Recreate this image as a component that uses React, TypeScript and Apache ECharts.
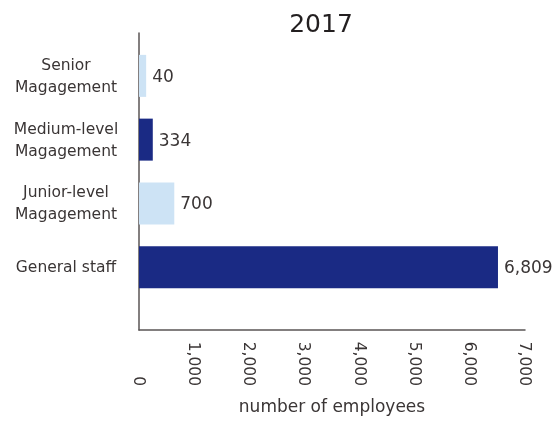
import React, { useEffect, useRef } from "react";
import * as echarts from "echarts";

const categories = ["Senior\nMagagement", "Medium-level\nMagagement", "Junior-level\nMagagement", "General staff"];
// bar lengths as drawn in the picture
const barValues = [130, 250, 640, 6510];
// numbers printed next to the bars
const labelValues = [40, 334, 700, 6809];
const barColors = ["#cde3f5", "#1a2a84", "#cde3f5", "#1a2a84"];
const xTicks = [0, 1000, 2000, 3000, 4000, 5000, 6000, 7000];
const title = "2017";
const xName = "number of employees";

const FONT = "DejaVu Sans";
const TXT = "#3a3535";

const fmt = (v: number) => v.toLocaleString("en-US");

export default function App() {
  const ref = useRef<HTMLDivElement>(null);
  useEffect(() => {
    const chart = echarts.init(ref.current!, undefined, { renderer: "svg" });
    const left = 139;
    const right = 28;
    chart.setOption({
      animation: false,
      textStyle: { fontFamily: FONT, color: TXT },
      title: {
        text: title,
        left: 316,
        top: 6,
        textAlign: "center",
        textStyle: { fontFamily: FONT, fontSize: 25, fontWeight: "normal", color: "#231f20" },
      },
      grid: [
        { left, right, top: 44, height: 255, outerBoundsMode: "none", containLabel: false },
        { left, right, top: 33, bottom: 91, outerBoundsMode: "none", containLabel: false },
      ],
      xAxis: [
        { gridIndex: 0, type: "value", min: 0, max: xTicks[xTicks.length - 1], show: false },
        {
          gridIndex: 1,
          type: "value",
          min: xTicks[0],
          max: xTicks[xTicks.length - 1],
          interval: xTicks[1] - xTicks[0],
          axisLine: { show: true, lineStyle: { color: "#5a5555", width: 1.5 } },
          axisTick: { show: false },
          splitLine: { show: false },
          axisLabel: {
            rotate: -90,
            margin: 12,
            color: TXT,
            fontFamily: FONT,
            fontSize: 15.5,
            formatter: (v: number) => `{a|${fmt(v)}}`,
            rich: { a: { width: 44, align: "right", fontFamily: FONT, fontSize: 15.5, color: TXT } },
          },
          name: xName,
          nameLocation: "middle",
          nameGap: 67,
          nameTextStyle: { fontFamily: FONT, fontSize: 17, color: TXT },
        },
      ],
      yAxis: [
        {
          gridIndex: 0,
          type: "category",
          inverse: true,
          data: categories,
          axisLine: { show: false },
          axisTick: { show: false },
          axisLabel: {
            margin: 73,
            align: "center",
            color: TXT,
            fontFamily: FONT,
            fontSize: 15.5,
            lineHeight: 22,
          },
        },
        {
          gridIndex: 1,
          type: "value",
          min: 0,
          max: 1,
          axisLine: { show: true, lineStyle: { color: "#5a5555", width: 1.5 } },
          axisTick: { show: false },
          axisLabel: { show: false },
          splitLine: { show: false },
        },
      ],
      series: [
        {
          type: "bar",
          xAxisIndex: 0,
          yAxisIndex: 0,
          barWidth: 42,
          data: barValues.map((v, i) => ({ value: v, itemStyle: { color: barColors[i] } })),
          label: {
            show: true,
            position: "right",
            distance: 6,
            color: TXT,
            fontFamily: FONT,
            fontSize: 17,
            formatter: (p: any) => fmt(labelValues[p.dataIndex]),
          },
        },
      ],
    });
    return () => chart.dispose();
  }, []);
  return <div ref={ref} style={{ position: "fixed", left: 0, top: 0, width: 553, height: 421 }} />;
}
